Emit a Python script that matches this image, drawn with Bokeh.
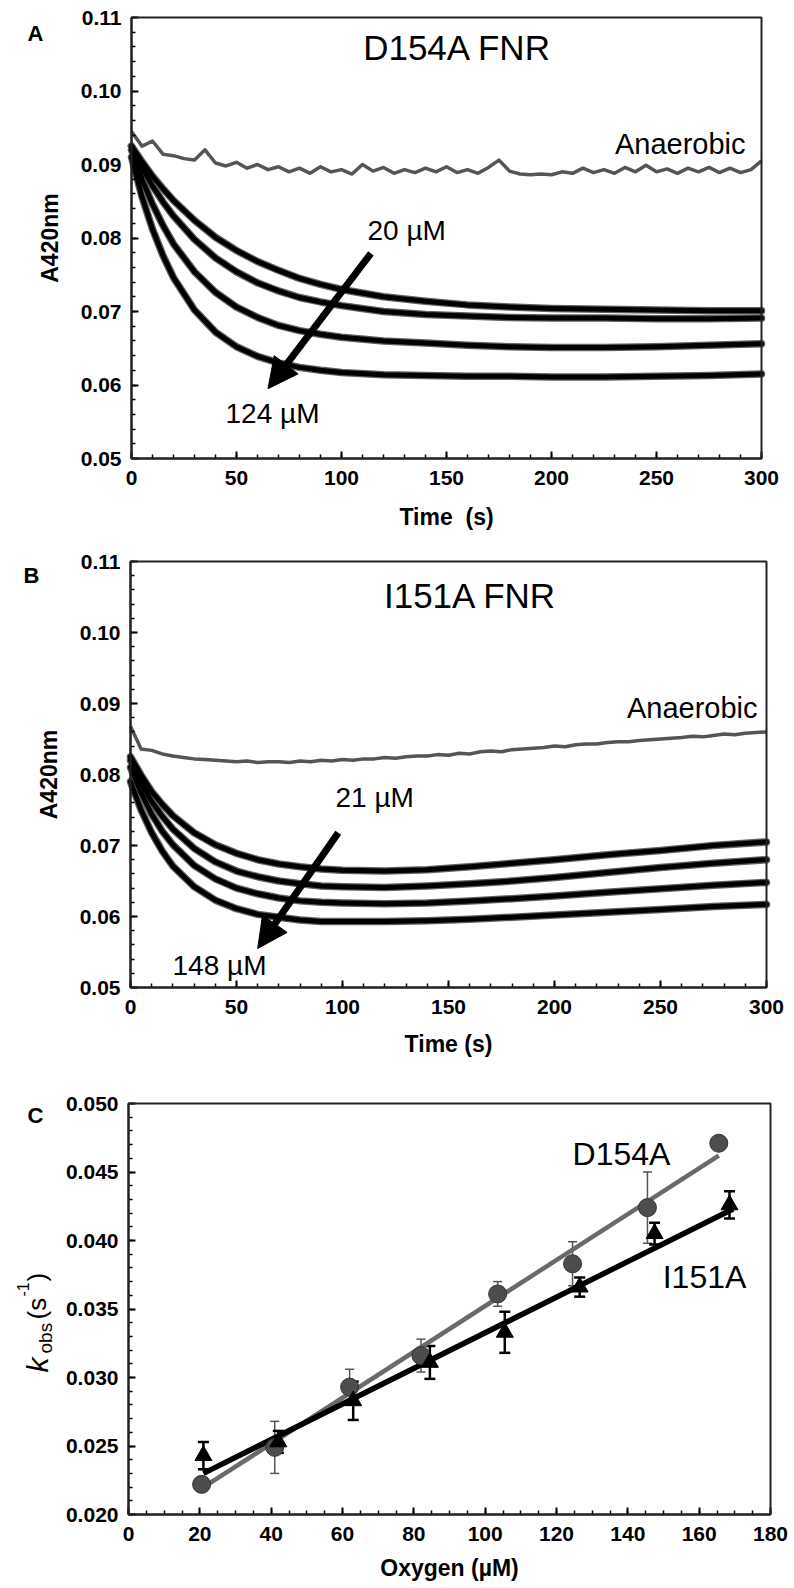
import math
from bokeh.plotting import figure
from bokeh.layouts import column
from bokeh.models import (Range1d, FixedTicker, NumeralTickFormatter, Label, Arrow, BoxAnnotation,
                          NormalHead, Whisker, TeeHead, ColumnDataSource)
from bokeh.embed import file_html
from bokeh.resources import INLINE

FONT = "Liberation Sans"

# ---------------- data: panel A (D154A FNR) ----------------
time_fit = [0, 5, 10, 15, 20, 30, 40, 50, 60, 70, 80, 90, 100, 120, 140, 160, 180, 200, 225, 250, 275, 300]
a_fit_1 = [0.0925, 0.0904, 0.0884, 0.0867, 0.0851, 0.0824, 0.0801, 0.0783, 0.0768, 0.0756, 0.0745, 0.0737,
           0.0730, 0.0720, 0.0714, 0.0709, 0.0706, 0.0704, 0.0703, 0.0702, 0.0701, 0.0701]
a_fit_2 = [0.0925, 0.0896, 0.0871, 0.0849, 0.0830, 0.0798, 0.0773, 0.0754, 0.0739, 0.0728, 0.0719, 0.0713,
           0.0708, 0.0700, 0.0696, 0.0694, 0.0692, 0.0691, 0.0691, 0.0690, 0.0690, 0.0691]
a_fit_3 = [0.0920, 0.0880, 0.0846, 0.0817, 0.0792, 0.0754, 0.0726, 0.0706, 0.0692, 0.0681, 0.0674, 0.0669,
           0.0665, 0.0660, 0.0657, 0.0654, 0.0652, 0.0651, 0.0651, 0.0652, 0.0654, 0.0656]
a_fit_4 = [0.0910, 0.0856, 0.0812, 0.0776, 0.0746, 0.0702, 0.0672, 0.0652, 0.0639, 0.0630, 0.0624, 0.0620,
           0.0617, 0.0614, 0.0613, 0.0612, 0.0612, 0.0611, 0.0611, 0.0612, 0.0613, 0.0615]

time_trace = [0, 5, 10, 15, 20, 25, 30, 35, 40, 45, 50, 55, 60, 65, 70, 75, 80, 85, 90, 95, 100,
              105, 110, 115, 120, 125, 130, 135, 140, 145, 150, 155, 160, 165, 170, 175, 180, 185, 190, 195, 200,
              205, 210, 215, 220, 225, 230, 235, 240, 245, 250, 255, 260, 265, 270, 275, 280, 285, 290, 295, 300]
a_anaerobic = [0.0945, 0.0925, 0.0932, 0.0914, 0.0912, 0.0908, 0.0906, 0.0920, 0.0902, 0.0898, 0.0903,
               0.0895, 0.0900, 0.0893, 0.0897, 0.0890, 0.0895, 0.0888, 0.0897, 0.0890, 0.0893,
               0.0887, 0.0900, 0.0891, 0.0896, 0.0888, 0.0893, 0.0889, 0.0895, 0.0890, 0.0897,
               0.0889, 0.0893, 0.0888, 0.0896, 0.0906, 0.0891, 0.0887, 0.0886, 0.0887, 0.0886,
               0.0890, 0.0888, 0.0895, 0.0889, 0.0893, 0.0888, 0.0896, 0.0890, 0.0899, 0.0890,
               0.0894, 0.0888, 0.0895, 0.0890, 0.0896, 0.0889, 0.0895, 0.0889, 0.0893, 0.0905]

# ---------------- data: panel B (I151A FNR) ----------------
b_fit_1 = [0.0825, 0.0799, 0.0776, 0.0758, 0.0742, 0.0718, 0.0701, 0.0689, 0.0680, 0.0674, 0.0670, 0.0667,
           0.0665, 0.0664, 0.0666, 0.0670, 0.0675, 0.0680, 0.0687, 0.0693, 0.0700, 0.0705]
b_fit_2 = [0.0820, 0.0788, 0.0762, 0.0741, 0.0723, 0.0696, 0.0677, 0.0664, 0.0656, 0.0650, 0.0646, 0.0643,
           0.0642, 0.0641, 0.0643, 0.0646, 0.0650, 0.0655, 0.0662, 0.0669, 0.0675, 0.0680]
b_fit_3 = [0.0810, 0.0774, 0.0744, 0.0720, 0.0701, 0.0672, 0.0653, 0.0640, 0.0632, 0.0626, 0.0622, 0.0620,
           0.0619, 0.0618, 0.0619, 0.0622, 0.0625, 0.0629, 0.0634, 0.0639, 0.0644, 0.0648]
b_fit_4 = [0.0790, 0.0750, 0.0718, 0.0692, 0.0671, 0.0642, 0.0623, 0.0611, 0.0603, 0.0599, 0.0595, 0.0593,
           0.0593, 0.0593, 0.0594, 0.0596, 0.0599, 0.0602, 0.0606, 0.0610, 0.0614, 0.0617]
b_anaerobic = [0.0868, 0.0836, 0.0834, 0.0829, 0.0826, 0.0824, 0.0822, 0.0821, 0.0820, 0.0819, 0.0818,
               0.0819, 0.0817, 0.0818, 0.0818, 0.0817, 0.0819, 0.0818, 0.0820, 0.0819, 0.0821,
               0.0820, 0.0822, 0.0822, 0.0824, 0.0823, 0.0825, 0.0826, 0.0826, 0.0828, 0.0827,
               0.0830, 0.0829, 0.0832, 0.0833, 0.0832, 0.0835, 0.0836, 0.0837, 0.0838, 0.0840,
               0.0839, 0.0842, 0.0843, 0.0843, 0.0845, 0.0846, 0.0846, 0.0848, 0.0849, 0.0850,
               0.0851, 0.0852, 0.0854, 0.0853, 0.0855, 0.0857, 0.0856, 0.0858, 0.0859, 0.0860]

# ---------------- data: panel C (kobs vs oxygen) ----------------
oxygen_d154a = [20.5, 41, 62, 82, 103.5, 124.5, 145.5, 165.5]
kobs_d154a = [0.0222, 0.0249, 0.0293, 0.0316, 0.0361, 0.0383, 0.0424, 0.0471]
err_d154a = [0.0003, 0.0019, 0.0013, 0.0012, 0.0009, 0.0016, 0.0026, 0.0000]
fit_x_d154a = [20.5, 165.5]
fit_y_d154a = [0.0219, 0.0462]

oxygen_i151a = [21, 42, 63, 84.5, 105.5, 126.5, 147.5, 168.5]
kobs_i151a = [0.0243, 0.0253, 0.0283, 0.0311, 0.0333, 0.0366, 0.0405, 0.0426]
err_i151a = [0.0010, 0.0008, 0.0014, 0.0012, 0.0015, 0.0007, 0.0008, 0.0010]
fit_x_i151a = [21, 169.5]
fit_y_i151a = [0.0230, 0.0423]

W = 790  # canvas width of every panel


def make_panel(H, box, xr, yr, xlabel_standoff):
    """Figure whose frame fills the canvas; the axes sit at the plot box via fixed_location."""
    L, T, R, B = box
    x0, x1 = xr
    y0, y1 = yr
    kx = (R - L) / (x1 - x0)
    ky = (B - T) / (y1 - y0)
    p = figure(frame_width=W, frame_height=H, min_border=0, min_border_left=0, min_border_right=0,
               min_border_top=0, min_border_bottom=0,
               x_range=Range1d(x0 - L / kx, x1 + (W - R) / kx),
               y_range=Range1d(y0 - (H - B) / ky, y1 + T / ky),
               output_backend="svg", toolbar_location=None)
    p.xgrid.visible = False
    p.ygrid.visible = False
    p.outline_line_color = None
    p.xaxis.fixed_location = y0
    p.yaxis.fixed_location = x0
    p.xaxis.bounds = (x0, x1)
    p.yaxis.bounds = (y0, y1)
    for ax in (p.xaxis[0], p.yaxis[0]):
        ax.axis_line_width = 2
        ax.axis_line_color = "#111111"
        ax.major_tick_in = 7
        ax.major_tick_out = 0
        ax.minor_tick_in = 4
        ax.minor_tick_out = 0
        ax.major_tick_line_width = 2
        ax.minor_tick_line_width = 1.5
        ax.major_label_text_font = FONT
        ax.major_label_text_font_style = "bold"
        ax.major_label_text_font_size = "21px"
        ax.major_label_text_color = "black"
        ax.axis_label_text_font = FONT
        ax.axis_label_text_font_style = "bold"
        ax.axis_label_text_font_size = "23px"
        ax.axis_label_text_color = "black"
    p.xaxis[0].major_label_standoff = 12
    p.yaxis[0].major_label_standoff = 10
    p.xaxis[0].axis_label_standoff = xlabel_standoff
    p.yaxis[0].axis_label_standoff = 15
    p.add_layout(BoxAnnotation(left=x0, right=x1, bottom=y0, top=y1, fill_alpha=0,
                               line_color="#222222", line_width=2, line_alpha=1))

    def X(px):
        return x0 + (px - L) / kx

    def Y(py):
        return y1 - (py - T) / ky
    return p, X, Y


def txt(p, x, y, s, size, align="left", baseline="middle", style="normal", angle=0.0):
    p.add_layout(Label(x=x, y=y, text=s, text_font=FONT, text_font_size=size,
                       text_font_style=style, text_align=align, text_baseline=baseline,
                       text_color="black", angle=angle))


def kinetics_panel(H, box, fits, anaer, xlabel, xls):
    p, X, Y = make_panel(H, box, (0, 300), (0.05, 0.11), xls)
    p.xaxis[0].ticker = FixedTicker(ticks=[0, 50, 100, 150, 200, 250, 300],
                                    minor_ticks=list(range(0, 301, 10)))
    p.yaxis[0].ticker = FixedTicker(ticks=[0.05, 0.06, 0.07, 0.08, 0.09, 0.10, 0.11],
                                    minor_ticks=[0.05 + 0.002 * i for i in range(31)])
    p.yaxis[0].formatter = NumeralTickFormatter(format="0.00")
    p.xaxis[0].axis_label = xlabel
    p.yaxis[0].axis_label = "A420nm"
    p.line(time_trace, anaer, line_color="#555555", line_width=3.5, line_join="round")
    for f in fits:
        p.line(time_fit, f, line_color="#606060", line_width=7.5, line_join="round", line_cap="round")
    for f in fits:
        p.line(time_fit, f, line_color="black", line_width=5, line_join="round", line_cap="round")
    return p, X, Y


# ---------------- panel A (canvas y 0..533) ----------------
pA, XA, YA = kinetics_panel(533, (131, 17, 761, 458), [a_fit_1, a_fit_2, a_fit_3, a_fit_4],
                            a_anaerobic, "Time\u00a0 (s)", 16)
txt(pA, XA(27), YA(33), "A", "22px", baseline="alphabetic", style="bold")
txt(pA, XA(457), YA(47), "D154A FNR", "35px", align="center")
txt(pA, XA(745), YA(143), "Anaerobic", "29px", align="right")
txt(pA, XA(367), YA(230), "20 µM", "28px")
txt(pA, XA(225), YA(413), "124 µM", "28px")
pA.add_layout(Arrow(end=NormalHead(size=30, fill_color="black", line_color="black"),
                    x_start=114, y_start=0.0779, x_end=65, y_end=0.0595,
                    line_width=7, line_color="black"))

# ---------------- panel B (canvas y 533..1059) ----------------
pB, XB, YB = kinetics_panel(526, (130, 28, 766, 454), [b_fit_1, b_fit_2, b_fit_3, b_fit_4],
                            b_anaerobic, "Time (s)", 14)
txt(pB, XB(23), YB(42), "B", "22px", baseline="alphabetic", style="bold")
txt(pB, XB(470), YB(62), "I151A FNR", "35px", align="center")
txt(pB, XB(757), YB(174), "Anaerobic", "29px", align="right")
txt(pB, XB(335), YB(264), "21 µM", "28px")
txt(pB, XB(172), YB(432), "148 µM", "28px")
pB.add_layout(Arrow(end=NormalHead(size=30, fill_color="black", line_color="black"),
                    x_start=98, y_start=0.0718, x_end=60, y_end=0.0555,
                    line_width=7, line_color="black"))

# ---------------- panel C (canvas y 1059..1588) ----------------
pC, XC, YC = make_panel(529, (128, 44, 770, 455), (0, 180), (0.020, 0.050), 11)
pC.xaxis[0].ticker = FixedTicker(ticks=[0, 20, 40, 60, 80, 100, 120, 140, 160, 180],
                                 minor_ticks=list(range(0, 181, 5)))
pC.yaxis[0].ticker = FixedTicker(ticks=[0.020, 0.025, 0.030, 0.035, 0.040, 0.045, 0.050],
                                 minor_ticks=[0.020 + 0.001 * i for i in range(31)])
pC.yaxis[0].formatter = NumeralTickFormatter(format="0.000")
pC.xaxis[0].axis_label = "Oxygen (µM)"

pC.line(fit_x_d154a, fit_y_d154a, line_color="#6a6a6a", line_width=4.5)
pC.line(fit_x_i151a, fit_y_i151a, line_color="black", line_width=5.5)

src_d = ColumnDataSource(dict(x=oxygen_d154a, y=kobs_d154a,
                              upper=[k + e for k, e in zip(kobs_d154a, err_d154a)],
                              lower=[k - e for k, e in zip(kobs_d154a, err_d154a)]))
src_i = ColumnDataSource(dict(x=oxygen_i151a, y=kobs_i151a,
                              upper=[k + e for k, e in zip(kobs_i151a, err_i151a)],
                              lower=[k - e for k, e in zip(kobs_i151a, err_i151a)]))
pC.add_layout(Whisker(source=src_d, base="x", upper="upper", lower="lower",
                      line_color="#555555", line_width=1.5,
                      upper_head=TeeHead(size=9, line_color="#555555", line_width=1.5),
                      lower_head=TeeHead(size=9, line_color="#555555", line_width=1.5)))
pC.add_layout(Whisker(source=src_i, base="x", upper="upper", lower="lower",
                      line_color="black", line_width=2.5,
                      upper_head=TeeHead(size=11, line_color="black", line_width=2.5),
                      lower_head=TeeHead(size=11, line_color="black", line_width=2.5)))
pC.scatter("x", "y", source=src_d, marker="circle", size=18, fill_color="#4d4d4d",
           line_color="#333333", line_width=1)
pC.scatter("x", "y", source=src_i, marker="triangle", size=17, fill_color="black",
           line_color="black", line_width=1)

txt(pC, XC(27), YC(56), "C", "22px", baseline="alphabetic", style="bold")
txt(pC, XC(621), YC(94), "D154A", "32px", align="center")
txt(pC, XC(704), YC(217), "I151A", "32px", align="center")

# y-axis title k_obs (s^-1), rotated pieces
rot = math.pi / 2
txt(pC, XC(37), YC(313), "k", "30px", baseline="alphabetic", style="italic", angle=rot)
txt(pC, XC(45), YC(294), "obs", "19px", baseline="alphabetic", angle=rot)
txt(pC, XC(36), YC(260), "(s", "26px", baseline="alphabetic", angle=rot)
txt(pC, XC(22), YC(237), "-1", "16px", baseline="alphabetic", angle=rot)
txt(pC, XC(36), YC(222), ")", "26px", baseline="alphabetic", angle=rot)

layout = column(pA, pB, pC, spacing=0)
open("out.html", "w").write(file_html(layout, INLINE))
